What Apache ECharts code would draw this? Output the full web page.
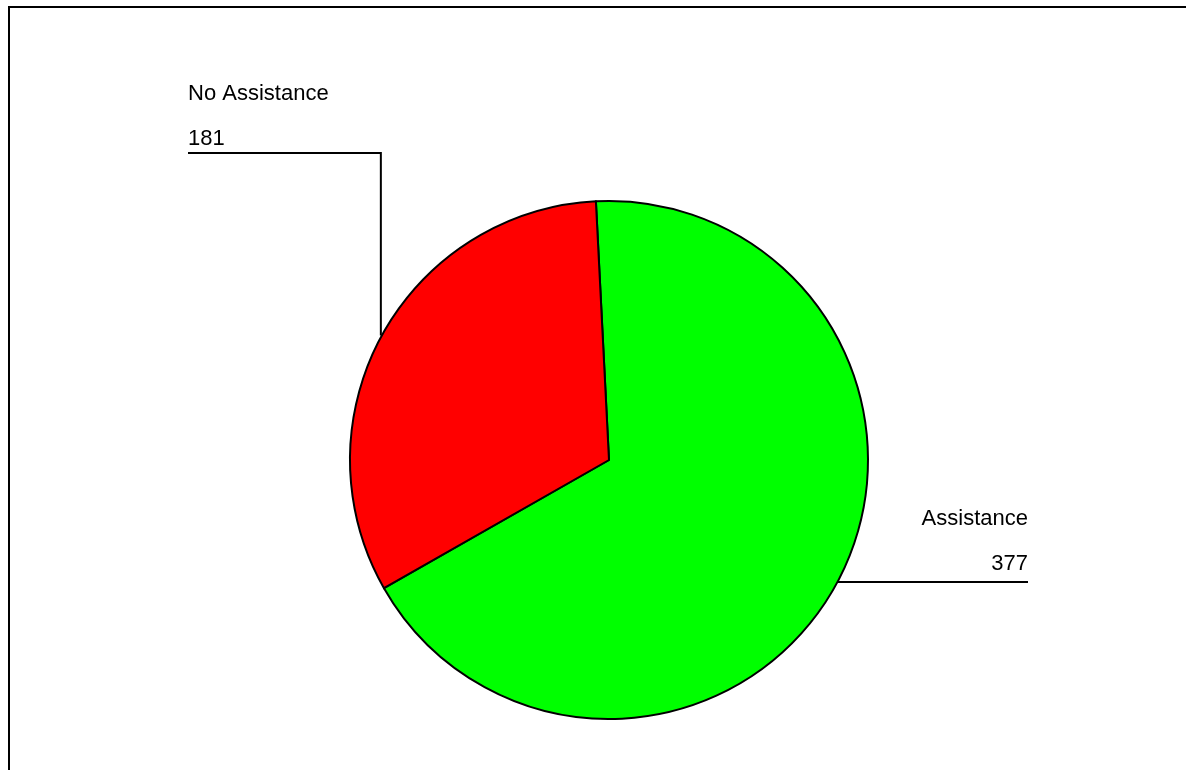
<!DOCTYPE html>
<html>
<head>
<meta charset="utf-8">
<script src="https://cdn.jsdelivr.net/npm/echarts@6/dist/echarts.min.js"></script>
<style>
  html, body { margin: 0; padding: 0; background: #fff; }
  #chart { width: 1186px; height: 770px; }
</style>
</head>
<body>
<div id="chart"></div>
<script>
// Survey responses: assistance received
const categories = ['Assistance', 'No Assistance'];
const counts = [377, 181];
const sliceColors = ['#00ff00', '#ff0000'];

// Pie geometry
const CENTER = [609, 460];
const RADIUS = 259;
const START_ANGLE = 92.9;

const total = counts.reduce((a, b) => a + b, 0);

// Mid-angle of each slice (degrees, counter-clockwise from 3 o'clock), slices run clockwise
function midPoint(index) {
  let before = 0;
  for (let i = 0; i < index; i++) before += counts[i];
  const mid = START_ANGLE - (before + counts[index] / 2) / total * 360;
  const rad = mid * Math.PI / 180;
  return [CENTER[0] + RADIUS * Math.cos(rad), CENTER[1] - RADIUS * Math.sin(rad)];
}

const chart = echarts.init(document.getElementById('chart'));

chart.setOption({
  backgroundColor: '#ffffff',
  animation: false,
  graphic: [
    { type: 'rect', shape: { x: 8, y: 6, width: 2, height: 764 }, style: { fill: '#000' } },
    { type: 'rect', shape: { x: 8, y: 6, width: 1178, height: 2 }, style: { fill: '#000' } }
  ],
  series: [{
    type: 'pie',
    center: CENTER,
    radius: RADIUS,
    startAngle: START_ANGLE,
    clockwise: true,
    avoidLabelOverlap: false,
    data: categories.map((name, i) => ({
      name: name,
      value: counts[i],
      itemStyle: { color: sliceColors[i] }
    })),
    itemStyle: { borderColor: '#000', borderWidth: 2 },
    emphasis: { disabled: true },
    label: {
      show: true,
      formatter: '{b}\n{c}',
      fontFamily: 'Liberation Sans, Arial, sans-serif',
      fontSize: 22,
      lineHeight: 45,
      color: '#000'
    },
    labelLine: {
      show: true,
      lineStyle: { color: '#000', width: 2 }
    },
    labelLayout: function (params) {
      const i = params.dataIndex;
      const p = midPoint(i);
      if (i === 0) {
        const lineY = Math.round(p[1]) - 2;
        const endX = 1028;
        return {
          x: endX, y: 541.5, align: 'right', verticalAlign: 'middle',
          labelLinePoints: [[p[0], lineY], [endX, lineY], [endX, lineY]]
        };
      }
      const lineY = 153;
      const endX = 188;
      const knee = [p[0] - 1, lineY];
      return {
        x: endX, y: 116.5, align: 'left', verticalAlign: 'middle',
        labelLinePoints: [[p[0] - 1, p[1]], knee, [endX, lineY]]
      };
    }
  }]
});
</script>
</body>
</html>
